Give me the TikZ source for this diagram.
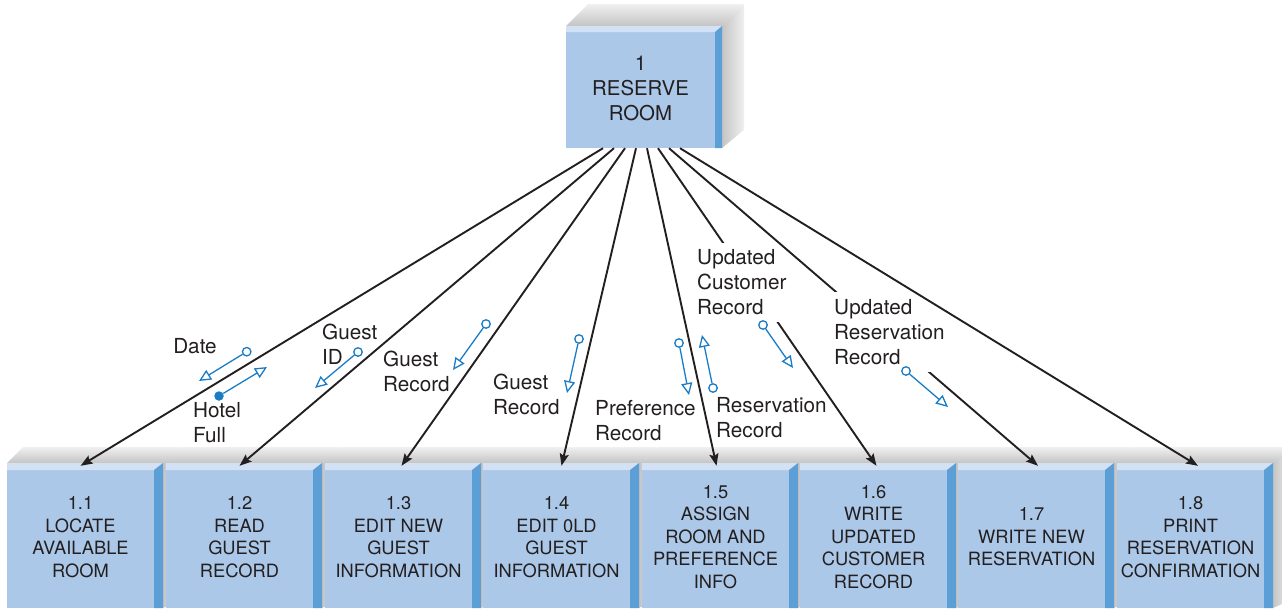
\documentclass[tikz,border=0pt]{standalone}
\usepackage{fontspec}
\setmainfont{TeX Gyre Heros}
\usetikzlibrary{arrows.meta}
\definecolor{boxfront}{RGB}{172,200,232}
\definecolor{boxtop}{RGB}{210,225,243}
\definecolor{boxside}{RGB}{92,158,214}
\definecolor{shlight}{RGB}{240,240,240}
\definecolor{shdark}{RGB}{196,196,196}
\definecolor{cblue}{RGB}{26,124,198}
\definecolor{txt}{RGB}{35,31,32}
\tikzset{
  front/.style={fill=boxfront, draw=none, inner sep=0pt, align=center, text=txt},
  flow/.style={draw=txt, line width=1.9pt, -{Stealth[length=12pt,width=9pt,inset=2pt]}},
  couple/.style={draw=cblue, line width=1.3pt, -{Triangle[open,length=12pt,width=11pt]}},
  datatail/.style={circle, draw=cblue, line width=1.3pt, fill=white, minimum size=8.5pt, inner sep=0pt},
  ctrltail/.style={circle, fill=cblue, minimum size=9.5pt, inner sep=0pt},
  clabel/.style={font=\fontsize{20.7}{25}\selectfont, align=left, text=txt, inner sep=0pt, anchor=west},
  wlabel/.style={clabel, fill=white, inner xsep=3pt, inner ysep=7pt},
}
\newcommand\lowbox[3]{%
  \shade[top color=shlight, bottom color=shdark] (#2,463) -- (#2+16,447) -- (#2+174,447) -- (#2+156,463) -- cycle;
  \shade[left color=shdark, right color=shlight] (#2+156,463) -- (#2+174,447) -- (#2+174,600) -- (#2+156,608) -- cycle;
  \node[front, minimum width=147pt, minimum height=142pt, font=\fontsize{18.3}{22.5}\selectfont] (#1) at (#2+73.5,537) {#3};
  \fill[boxtop] (#2,463) -- (#2+156,463) -- (#2+147,470) -- (#2,470) -- cycle;
  \fill[boxside] (#2+147,470) -- (#2+156,463) -- (#2+156,608) -- (#2+147,608) -- cycle;
}
\begin{document}
\begin{tikzpicture}[x=1pt,y=-1pt]
\useasboundingbox (0,0) rectangle (1282,608);
% top process box
\shade[top color=shlight, bottom color=shdark] (566,26) -- (588,4) -- (744,4) -- (722,26) -- cycle;
\shade[left color=shdark, right color=shlight] (722,26) -- (744,4) -- (744,130) -- (722,148) -- cycle;
\node[front, minimum width=149pt, minimum height=119pt, font=\fontsize{20.4}{25}\selectfont] (R) at (640.5,88.5) {1\\RESERVE\\ROOM};
\fill[boxtop] (566,26) -- (722,26) -- (715,32) -- (566,32) -- cycle;
\fill[boxside] (715,32) -- (722,26) -- (722,148) -- (715,148) -- cycle;
% lower process boxes
\lowbox{b1}{7}{1.1\\LOCATE\\AVAILABLE\\ROOM}
\lowbox{b2}{166}{1.2\\READ\\GUEST\\RECORD}
\lowbox{b3}{325}{1.3\\EDIT NEW\\GUEST\\INFORMATION}
\lowbox{b4}{483}{1.4\\EDIT 0LD\\GUEST\\INFORMATION}
\lowbox{b5}{642}{1.5\\ASSIGN\\ROOM AND\\PREFERENCE\\INFO}
\lowbox{b6}{800}{1.6\\WRITE\\UPDATED\\CUSTOMER\\RECORD}
\lowbox{b7}{958}{1.7\\WRITE NEW\\RESERVATION}
\lowbox{b8}{1117}{1.8\\PRINT\\RESERVATION\\CONFIRMATION}
% connectors
\draw[flow] ([xshift=-37.5pt]R.south) -- (b1.north);
\draw[flow] ([xshift=-26.5pt]R.south) -- (b2.north);
\draw[flow] ([xshift=-15.5pt]R.south) -- ([xshift=3pt]b3.north);
\draw[flow] ([xshift=-4.5pt]R.south) -- ([xshift=5pt]b4.north);
\draw[flow] ([xshift=6.5pt]R.south) -- ([xshift=1pt]b5.north);
\draw[flow] ([xshift=17.5pt]R.south) -- ([xshift=3pt]b6.north);
\node[wlabel] (lucr) at (694,282.5) {Updated\\Customer\\Record};
\draw[flow] ([xshift=28.5pt]R.south) -- ([xshift=6.5pt]b7.north);
\node[wlabel] (lurr) at (831,332) {Updated\\Reservation\\Record};
\draw[flow] ([xshift=39.5pt]R.south) -- ([xshift=7.5pt]b8.north);
% couple labels
\node[clabel, anchor=center] (ldate) at (195,346) {Date};
\node[clabel] (lhotel) at (193,422.5) {Hotel\\Full};
\node[clabel] (lgid) at (322,344.5) {Guest\\ID};
\node[clabel] (lgr3) at (383,371) {Guest\\Record};
\node[clabel] (lgr4) at (493,394.5) {Guest\\Record};
\node[clabel] (lpref) at (595,420.5) {Preference\\Record};
\node[clabel] (lresv) at (716,418) {Reservation\\Record};
% couples
\node[datatail] (t1) at (246.7,351.7) {};
\coordinate (h1) at (199,381);
\draw[couple] (t1) -- (h1);
\node[ctrltail] (t2) at (219,396) {};
\coordinate (h2) at (267,367);
\draw[couple] (t2) -- (h2);
\node[datatail] (t3) at (358,352) {};
\coordinate (h3) at (315,388);
\draw[couple] (t3) -- (h3);
\node[datatail] (t4) at (486,324) {};
\coordinate (h4) at (453,370);
\draw[couple] (t4) -- (h4);
\node[datatail] (t5) at (579,339) {};
\coordinate (h5) at (567,393);
\draw[couple] (t5) -- (h5);
\node[datatail] (t6) at (679,343) {};
\coordinate (h6) at (689,395);
\draw[couple] (t6) -- (h6);
\node[datatail] (t7) at (713,388) {};
\coordinate (h7) at (702,335);
\draw[couple] (t7) -- (h7);
\node[datatail] (t8) at (763,325) {};
\coordinate (h8) at (793,368);
\draw[couple] (t8) -- (h8);
\node[datatail] (t9) at (906,371) {};
\coordinate (h9) at (948,407);
\draw[couple] (t9) -- (h9);
\end{tikzpicture}
\end{document}
